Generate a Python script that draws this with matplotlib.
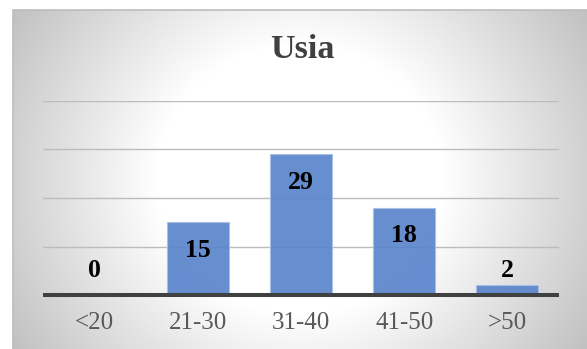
import numpy as np
import matplotlib.pyplot as plt

categories = ["<20", "21-30", "31-40", "41-50", ">50"]
counts = [0, 15, 29, 18, 2]
y_ticks = [10, 20, 30, 40]

W, H, DPI = 587, 349, 100
fig = plt.figure(figsize=(W / DPI, H / DPI), dpi=DPI)
fig.patch.set_facecolor("white")

# chart frame with a radial grey-to-white fill
fx0 = 13 / W
fw, fh = 1 - fx0, (H - 10) / H
bg = fig.add_axes([fx0, 0.0, fw, fh], zorder=0)
nx, ny = 400, 240
xx, yy = np.meshgrid(np.linspace(-1, 1, nx), np.linspace(-1, 1, ny))
r = np.sqrt(xx ** 2 + (yy / 1.6) ** 2)
t = np.clip((r - 0.5) / (1.2 - 0.5), 0, 1)
shade = 1.0 - 0.25 * t
img = np.dstack([shade, shade, shade])
bg.imshow(img, extent=[0, 1, 0, 1], aspect="auto", origin="lower")
bg.set_xlim(0, 1)
bg.set_ylim(0, 1)
bg.axis("off")
bg.plot([0, 0, 1], [0, 1, 1], color="#bdbdbd", lw=1.2, transform=bg.transAxes, clip_on=False)

ax = fig.add_axes([43 / W, 54 / H, (559 - 43) / W, (295 - 101) / H], zorder=1)
ax.patch.set_alpha(0)
x = np.arange(len(categories))
ax.set_xlim(-0.5, len(categories) - 0.5)
ax.set_ylim(0, 40)

for v in y_ticks:
    ax.axhline(v, color="#bcbcbc", lw=1.0, zorder=1)

ax.bar(x, counts, width=0.6, color="#5B85CC", edgecolor="#a9bfe6", linewidth=0.8, alpha=0.93, zorder=2)
ax.axhline(0, color="#404040", lw=2.9, zorder=3, clip_on=False, solid_capstyle="butt")

serif = ["Liberation Serif", "DejaVu Serif"]
for xi, v in zip(x, counts):
    ax.annotate(str(v), (xi, max(v, 10.7)), xytext=(0, -20), textcoords="offset points",
                ha="center", va="center", fontsize=18.5, fontweight="bold",
                family=serif, color="black", zorder=4)

ax.set_xticks(x)
ax.set_xticklabels(categories, family=serif, fontsize=18, color="#595959")
ax.tick_params(axis="x", length=0, pad=12)
ax.set_yticks([])
for s in ax.spines.values():
    s.set_visible(False)

fig.text(302 / W, 1 - 50 / H, "Usia", ha="center", va="center", fontsize=24.5,
         fontweight="bold", family=serif, color="#404040")

fig.savefig("out.png", dpi=DPI)
